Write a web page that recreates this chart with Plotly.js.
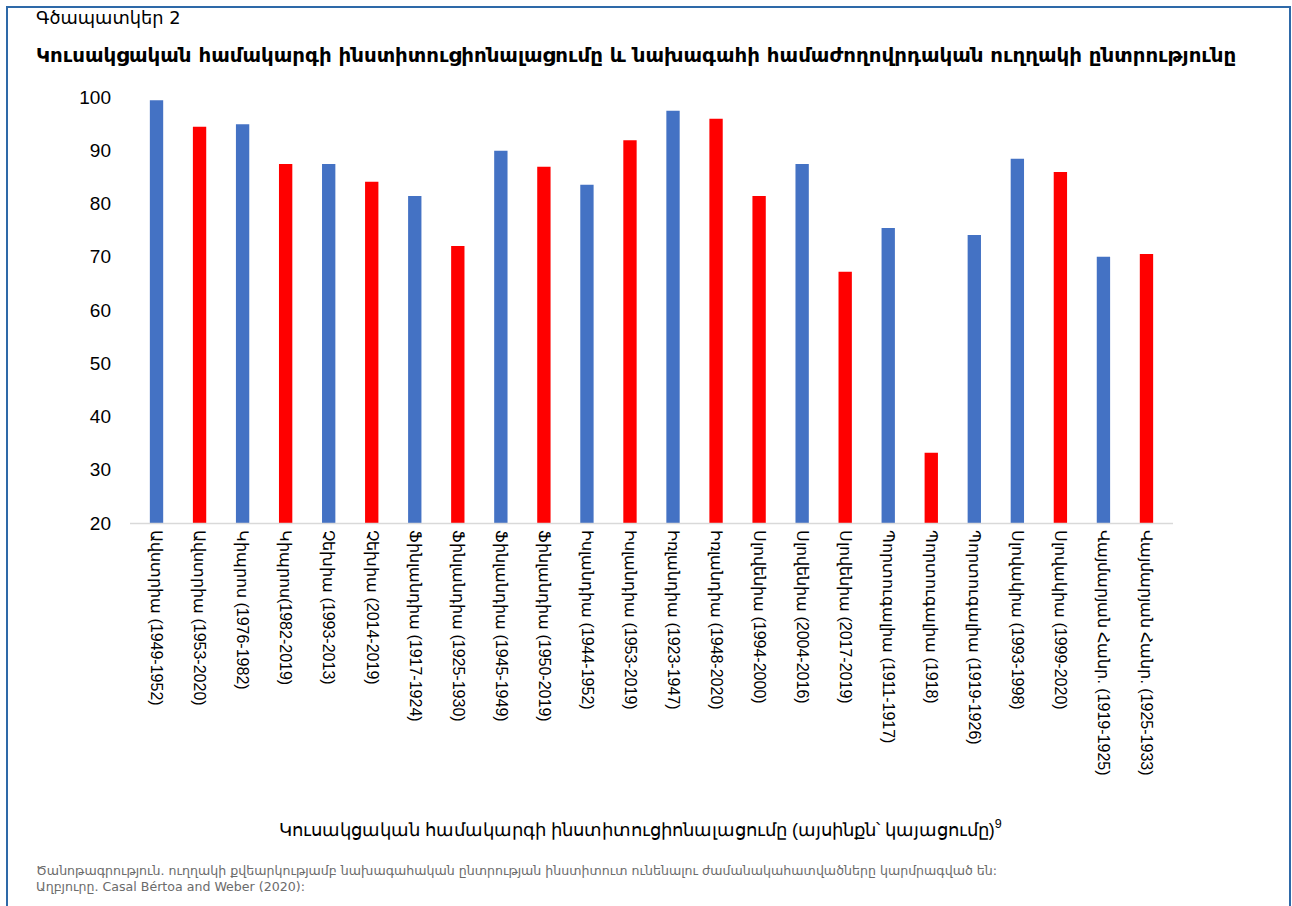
<!DOCTYPE html>
<html>
<head>
<meta charset="utf-8">
<script src="https://cdn.plot.ly/plotly-3.0.1.min.js"></script>
<style>
  html, body { margin: 0; padding: 0; background: #fff; }
  #chart { width: 1292px; height: 906px; }
</style>
</head>
<body>
<div id="chart"></div>
<script>
// ---- Data ----
const categories = [
  "Ավստրիա (1949-1952)",
  "Ավստրիա (1953-2020)",
  "Կիպրոս (1976-1982)",
  "Կիպրոս(1982-2019)",
  "Չեխիա (1993-2013)",
  "Չեխիա (2014-2019)",
  "Ֆինլանդիա (1917-1924)",
  "Ֆինլանդիա (1925-1930)",
  "Ֆինլանդիա (1945-1949)",
  "Ֆինլանդիա (1950-2019)",
  "Իսլանդիա (1944-1952)",
  "Իսլանդիա (1953-2019)",
  "Իռլանդիա (1923-1947)",
  "Իռլանդիա (1948-2020)",
  "Սլովենիա (1994-2000)",
  "Սլովենիա (2004-2016)",
  "Սլովենիա (2017-2019)",
  "Պորտուգալիա (1911-1917)",
  "Պորտուգալիա (1918)",
  "Պորտուգալիա (1919-1926)",
  "Սլովակիա (1993-1998)",
  "Սլովակիա (1999-2020)",
  "Վայմարյան Հանր. (1919-1925)",
  "Վայմարյան Հանր. (1925-1933)"
];
const institutionalization = [
  99.4, 94.4, 94.9, 87.4, 87.4, 84.1, 81.4, 72.0, 89.9, 86.9, 83.5, 91.9,
  97.4, 95.9, 81.4, 87.4, 67.2, 75.4, 33.2, 74.1, 88.4, 85.9, 70.0, 70.5
];
// 1 = period with direct popular election of the president (shown in red)
const directElection = [
  0, 1, 0, 1, 0, 1, 0, 1, 0, 1, 0, 1,
  0, 1, 1, 0, 1, 0, 1, 0, 0, 1, 0, 1
];
const yTicks = [20, 30, 40, 50, 60, 70, 80, 90, 100];

const figureLabel = "Գծապատկեր 2";
const chartTitle = "Կուսակցական համակարգի ինստիտուցիոնալացումը և նախագահի համաժողովրդական ուղղակի ընտրությունը";
const xTitle = "Կուսակցական համակարգի ինստիտուցիոնալացումը (այսինքն՝ կայացումը)<sup>9</sup>";
const noteLine = "Ծանոթագրություն. ուղղակի քվեարկությամբ նախագահական ընտրության ինստիտուտ ունենալու ժամանակահատվածները կարմրագված են:";
const sourceLine = "Աղբյուրը. Casal Bértoa and Weber (2020):";

// ---- Styles ----
const BLUE = "#4472C4";
const RED = "#FF0000";
const W = 1292, H = 906;
const M = { l: 135, r: 124, t: 97, b: 383 };
const PW = W - M.l - M.r, PH = H - M.t - M.b;
const px = x => (x - M.l) / PW;          // pixel -> paper x
const py = y => (H - M.b - y) / PH;      // pixel -> paper y

const trace = {
  type: "bar",
  x: categories,
  y: institutionalization.map(v => v - 20),
  base: 20,
  width: 0.31,
  customdata: institutionalization,
  hovertemplate: "%{x}: %{customdata}<extra></extra>",
  marker: {
    color: directElection.map(d => d ? RED : BLUE),
    line: { width: 0 }
  }
};

const xTickFont = { family: "Liberation Sans, Arial, sans-serif", size: 16, color: "#000" };
const yTickFont = { family: "Liberation Sans, Arial, sans-serif", size: 19, color: "#000" };

const layout = {
  width: W, height: H,
  margin: M,
  paper_bgcolor: "#fff",
  plot_bgcolor: "#fff",
  showlegend: false,
  xaxis: {
    type: "category",
    categoryorder: "array",
    categoryarray: categories,
    tickangle: 90,
    tickfont: xTickFont,
    showgrid: false,
    zeroline: false,
    showline: false,
    ticks: "",
    ticklabelstandoff: 6,
    fixedrange: true
  },
  yaxis: {
    range: [20, 100],
    tickvals: yTicks,
    ticktext: yTicks.map(String),
    tickfont: yTickFont,
    showgrid: false,
    zeroline: false,
    showline: false,
    ticks: "",
    ticklabelstandoff: 23,
    fixedrange: true
  },
  shapes: [
    // x axis baseline
    { type: "line", xref: "paper", yref: "paper",
      x0: px(130), x1: px(1173), y0: py(523.5), y1: py(523.5),
      line: { color: "#d9d9d9", width: 1.5 } },
    // outer frame
    { type: "rect", xref: "paper", yref: "paper",
      x0: px(7), x1: px(1290), y0: py(7), y1: py(930),
      line: { color: "#2E69A8", width: 2 }, fillcolor: "rgba(0,0,0,0)", layer: "above" }
  ],
  annotations: [
    { text: figureLabel, xref: "paper", yref: "paper", x: px(34), y: py(5),
      xanchor: "left", yanchor: "top", showarrow: false,
      font: { family: "DejaVu Sans, Verdana, sans-serif", size: 17.8, color: "#000" } },
    { text: "<b>" + chartTitle + "</b>", xref: "paper", yref: "paper", x: px(34), y: py(42),
      xanchor: "left", yanchor: "top", showarrow: false,
      font: { family: "DejaVu Sans, Verdana, sans-serif", size: 19.8, color: "#000" } },
    { text: xTitle, xref: "paper", yref: "paper", x: px(640), y: py(828),
      xanchor: "center", yanchor: "middle", showarrow: false,
      font: { family: "Liberation Sans, Arial, sans-serif", size: 17.9, color: "#000" } },
    { text: noteLine + "<br>" + sourceLine, xref: "paper", yref: "paper", x: px(34), y: py(861),
      xanchor: "left", yanchor: "top", align: "left", showarrow: false,
      font: { family: "DejaVu Sans, Verdana, sans-serif", size: 12.6, color: "#6b6b6b" } }
  ]
};

Plotly.newPlot("chart", [trace], layout, { displayModeBar: false, staticPlot: true });
</script>
</body>
</html>
